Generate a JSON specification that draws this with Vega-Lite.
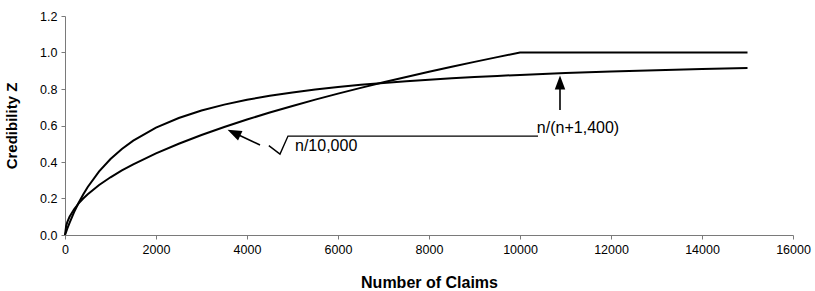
{
  "$schema": "https://vega.github.io/schema/vega-lite/v6.json",
  "width": 728,
  "height": 219,
  "autosize": "none",
  "padding": {"left": 65, "top": 16, "right": 22, "bottom": 56},
  "config": {
    "view": {"stroke": null},
    "font": "Liberation Sans",
    "axis": {
      "grid": false,
      "domainColor": "#7a7a7a",
      "tickColor": "#7a7a7a",
      "tickSize": 4,
      "labelColor": "#000000",
      "labelFontSize": 12.5,
      "labelOverlap": false,
      "titleColor": "#000000",
      "titleFontWeight": "bold"
    }
  },
  "datasets": {
    "curves": [
      {"x": 0, "y": 0, "series": "sqrt"},
      {"x": 25, "y": 0.05, "series": "sqrt"},
      {"x": 50, "y": 0.0707, "series": "sqrt"},
      {"x": 100, "y": 0.1, "series": "sqrt"},
      {"x": 200, "y": 0.1414, "series": "sqrt"},
      {"x": 300, "y": 0.1732, "series": "sqrt"},
      {"x": 400, "y": 0.2, "series": "sqrt"},
      {"x": 500, "y": 0.2236, "series": "sqrt"},
      {"x": 750, "y": 0.2739, "series": "sqrt"},
      {"x": 1000, "y": 0.3162, "series": "sqrt"},
      {"x": 1250, "y": 0.3536, "series": "sqrt"},
      {"x": 1500, "y": 0.3873, "series": "sqrt"},
      {"x": 2000, "y": 0.4472, "series": "sqrt"},
      {"x": 2500, "y": 0.5, "series": "sqrt"},
      {"x": 3000, "y": 0.5477, "series": "sqrt"},
      {"x": 3500, "y": 0.5916, "series": "sqrt"},
      {"x": 4000, "y": 0.6325, "series": "sqrt"},
      {"x": 4500, "y": 0.6708, "series": "sqrt"},
      {"x": 5000, "y": 0.7071, "series": "sqrt"},
      {"x": 5500, "y": 0.7416, "series": "sqrt"},
      {"x": 6000, "y": 0.7746, "series": "sqrt"},
      {"x": 6500, "y": 0.8062, "series": "sqrt"},
      {"x": 7000, "y": 0.8367, "series": "sqrt"},
      {"x": 7500, "y": 0.866, "series": "sqrt"},
      {"x": 8000, "y": 0.8944, "series": "sqrt"},
      {"x": 8500, "y": 0.922, "series": "sqrt"},
      {"x": 9000, "y": 0.9487, "series": "sqrt"},
      {"x": 9500, "y": 0.9747, "series": "sqrt"},
      {"x": 10000, "y": 1.0, "series": "sqrt"},
      {"x": 15000, "y": 1.0, "series": "sqrt"},
      {"x": 0, "y": 0, "series": "ratio"},
      {"x": 25, "y": 0.0175, "series": "ratio"},
      {"x": 50, "y": 0.0345, "series": "ratio"},
      {"x": 100, "y": 0.0667, "series": "ratio"},
      {"x": 200, "y": 0.125, "series": "ratio"},
      {"x": 300, "y": 0.1765, "series": "ratio"},
      {"x": 400, "y": 0.2222, "series": "ratio"},
      {"x": 500, "y": 0.2632, "series": "ratio"},
      {"x": 750, "y": 0.3488, "series": "ratio"},
      {"x": 1000, "y": 0.4167, "series": "ratio"},
      {"x": 1250, "y": 0.4717, "series": "ratio"},
      {"x": 1500, "y": 0.5172, "series": "ratio"},
      {"x": 2000, "y": 0.5882, "series": "ratio"},
      {"x": 2500, "y": 0.641, "series": "ratio"},
      {"x": 3000, "y": 0.6818, "series": "ratio"},
      {"x": 3500, "y": 0.7143, "series": "ratio"},
      {"x": 4000, "y": 0.7407, "series": "ratio"},
      {"x": 4500, "y": 0.7627, "series": "ratio"},
      {"x": 5000, "y": 0.7813, "series": "ratio"},
      {"x": 5500, "y": 0.7971, "series": "ratio"},
      {"x": 6000, "y": 0.8108, "series": "ratio"},
      {"x": 6500, "y": 0.8228, "series": "ratio"},
      {"x": 7000, "y": 0.8333, "series": "ratio"},
      {"x": 7500, "y": 0.8427, "series": "ratio"},
      {"x": 8000, "y": 0.8511, "series": "ratio"},
      {"x": 8500, "y": 0.8586, "series": "ratio"},
      {"x": 9000, "y": 0.8654, "series": "ratio"},
      {"x": 9500, "y": 0.8716, "series": "ratio"},
      {"x": 10000, "y": 0.8772, "series": "ratio"},
      {"x": 11000, "y": 0.8871, "series": "ratio"},
      {"x": 12000, "y": 0.8955, "series": "ratio"},
      {"x": 13000, "y": 0.9028, "series": "ratio"},
      {"x": 14000, "y": 0.9091, "series": "ratio"},
      {"x": 15000, "y": 0.9146, "series": "ratio"}
    ],
    "arrows": [
      {"x": 4286, "y": 0.493, "xe": 3712, "ye": 0.56},
      {"x": 10879, "y": 0.685, "xe": 10879, "ye": 0.836}
    ],
    "heads": [
      {"x": 3712, "y": 0.56, "angle": 295},
      {"x": 10879, "y": 0.836, "angle": 0}
    ],
    "radical": [
      {"i": 1, "x": 4480, "y": 0.49},
      {"i": 2, "x": 4725, "y": 0.443},
      {"i": 3, "x": 4901, "y": 0.542},
      {"i": 4, "x": 10396, "y": 0.542}
    ],
    "labels": [
      {"x": 5055, "y": 0.49, "text": "n/10,000", "align": "left"},
      {"x": 11275, "y": 0.586, "text": "n/(n+1,400)", "align": "center"}
    ]
  },
  "encoding": {
    "x": {
      "field": "x", "type": "quantitative",
      "scale": {"domain": [0, 16000], "nice": false},
      "axis": {"values": [0, 2000, 4000, 6000, 8000, 10000, 12000, 14000, 16000], "format": "d", "labelPadding": 4, "labelOverlap": false, "title": "Number of Claims", "titleFontSize": 16, "titlePadding": 19, "labelFlush": false}
    },
    "y": {
      "field": "y", "type": "quantitative",
      "scale": {"domain": [0, 1.2], "nice": false},
      "axis": {"values": [0, 0.2, 0.4, 0.6, 0.8, 1.0, 1.2], "format": ".1f", "labelPadding": 4, "labelOverlap": false, "labelFlush": false, "title": "Credibility Z", "titleFontSize": 15, "titlePadding": 20}
    }
  },
  "layer": [
    {
      "data": {"name": "curves"},
      "mark": {"type": "line", "color": "#000000", "strokeWidth": 2},
      "encoding": {
        "detail": {"field": "series"}
      }
    },
    {
      "data": {"name": "arrows"},
      "mark": {"type": "rule", "color": "#000000", "strokeWidth": 1.6},
      "encoding": {
        "x2": {"field": "xe"},
        "y2": {"field": "ye"}
      }
    },
    {
      "data": {"name": "heads"},
      "mark": {"type": "point", "shape": "M0,-1L0.75,1L-0.75,1Z", "size": 196, "filled": true, "color": "#000000", "opacity": 1},
      "encoding": {
        "angle": {"field": "angle", "type": "quantitative", "scale": null}
      }
    },
    {
      "data": {"name": "radical"},
      "mark": {"type": "line", "color": "#000000", "strokeWidth": 1.4},
      "encoding": {
        "order": {"field": "i"}
      }
    },
    {
      "data": {"name": "labels"},
      "transform": [{"filter": "datum.align == 'left'"}],
      "mark": {"type": "text", "align": "left", "baseline": "middle", "fontSize": 16, "color": "#000000"},
      "encoding": {
        "text": {"field": "text"}
      }
    },
    {
      "data": {"name": "labels"},
      "transform": [{"filter": "datum.align == 'center'"}],
      "mark": {"type": "text", "align": "center", "baseline": "middle", "fontSize": 16, "color": "#000000"},
      "encoding": {
        "text": {"field": "text"}
      }
    }
  ]
}
